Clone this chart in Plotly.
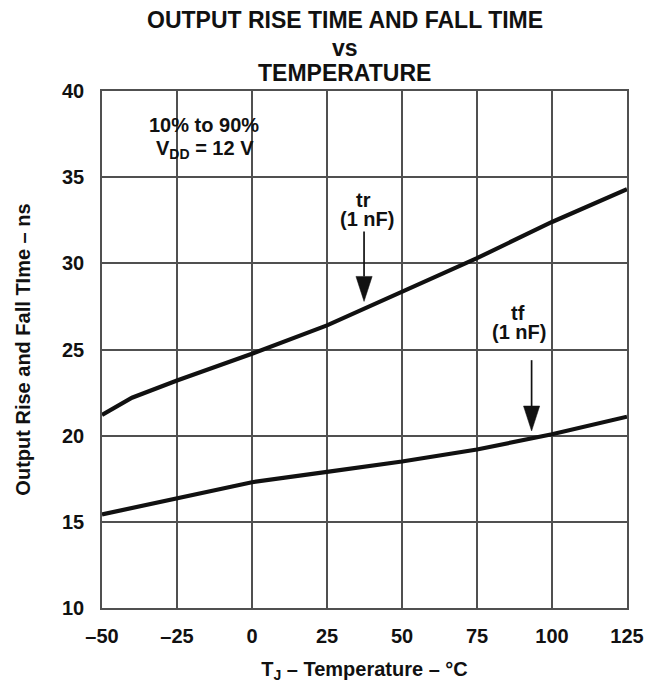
import plotly.graph_objects as go

# Junction temperature (°C)
temp_tr = [-50, -40, -25, 0, 25, 50, 75, 100, 125]
rise_time = [21.2, 22.2, 23.2, 24.75, 26.4, 28.35, 30.3, 32.4, 34.3]

temp_tf = [-50, -40, -25, 0, 25, 50, 75, 100, 125]
fall_time = [15.43, 15.8, 16.35, 17.3, 17.9, 18.5, 19.2, 20.08, 21.1]

x_tickvals = [-50, -25, 0, 25, 50, 75, 100, 125]
x_ticktext = ["–50", "–25", "0", "25", "50", "75", "100", "125"]
y_tickvals = [10, 15, 20, 25, 30, 35, 40]

title_lines = ["OUTPUT RISE TIME AND FALL TIME", "vs", "TEMPERATURE"]

# Callout arrows: x, tail value, tip value
arrow_x = [37.35, 93.2]
arrow_tail = [31.84, 24.38]
arrow_tip = [27.79, 20.27]

FONT = "Liberation Sans, Arial, Helvetica, sans-serif"
INK = "#111111"
GRID = "#505050"

fig = go.Figure()
fig.add_trace(go.Scatter(x=temp_tr, y=rise_time, mode="lines",
                         line=dict(color=INK, width=4.2), hoverinfo="skip"))
fig.add_trace(go.Scatter(x=temp_tf, y=fall_time, mode="lines",
                         line=dict(color=INK, width=4.2), hoverinfo="skip"))

head_len = 1.45   # in y units
head_half = 2.7   # in x units
for ax_, top, tip in zip(arrow_x, arrow_tail, arrow_tip):
    fig.add_trace(go.Scatter(x=[ax_, ax_], y=[top, tip + head_len], mode="lines",
                             line=dict(color=INK, width=1.7), hoverinfo="skip"))
    fig.add_trace(go.Scatter(x=[ax_ - head_half, ax_ + head_half, ax_, ax_ - head_half],
                             y=[tip + head_len, tip + head_len, tip, tip + head_len],
                             mode="lines", fill="toself", fillcolor=INK,
                             line=dict(color=INK, width=0.5), hoverinfo="skip"))


def label(x, y, text, size=20, xref="x", yref="y"):
    fig.add_annotation(x=x, y=y, xref=xref, yref=yref, text=text, showarrow=False,
                       xanchor="center", yanchor="middle",
                       font=dict(family=FONT, size=size, color=INK, weight="bold"))


label(-15.9, 38.0, "10% to 90%")
label(-15.8, 36.6, "V<sub>DD</sub> = 12 V")
label(37.0, 33.65, "tr")
label(38.4, 32.6, "(1 nF)")
label(88.8, 27.1, "tf")
label(89.1, 26.0, "(1 nF)")

for txt, yy in zip(title_lines, [1.138, 1.083, 1.034]):
    label(0.4623, yy, txt, size=23, xref="paper", yref="paper")

fig.update_layout(
    width=657, height=689,
    margin=dict(l=102, r=30, t=91, b=75),
    paper_bgcolor="white", plot_bgcolor="white",
    showlegend=False,
    font=dict(family=FONT, color=INK),
)
fig.update_xaxes(range=[-50, 125], tickvals=x_tickvals, ticktext=x_ticktext,
                 showgrid=True, gridcolor=GRID, gridwidth=1.5,
                 showline=True, mirror=True, linecolor=GRID, linewidth=1.5,
                 zeroline=False, ticks="", ticklabelstandoff=9,
                 tickfont=dict(family=FONT, size=20, color=INK, weight="bold"),
                 title=dict(text="T<sub>J</sub> – Temperature – °C", standoff=16,
                            font=dict(family=FONT, size=20, color=INK, weight="bold")))
fig.update_yaxes(range=[10, 40], tickvals=y_tickvals,
                 showgrid=True, gridcolor=GRID, gridwidth=1.5,
                 showline=True, mirror=True, linecolor=GRID, linewidth=1.5,
                 zeroline=False, ticks="", ticklabelstandoff=12,
                 tickfont=dict(family=FONT, size=20, color=INK, weight="bold"),
                 title=dict(text="Output Rise and Fall TIme – ns", standoff=26,
                            font=dict(family=FONT, size=20, color=INK, weight="bold")))

fig.write_html("out.html")
